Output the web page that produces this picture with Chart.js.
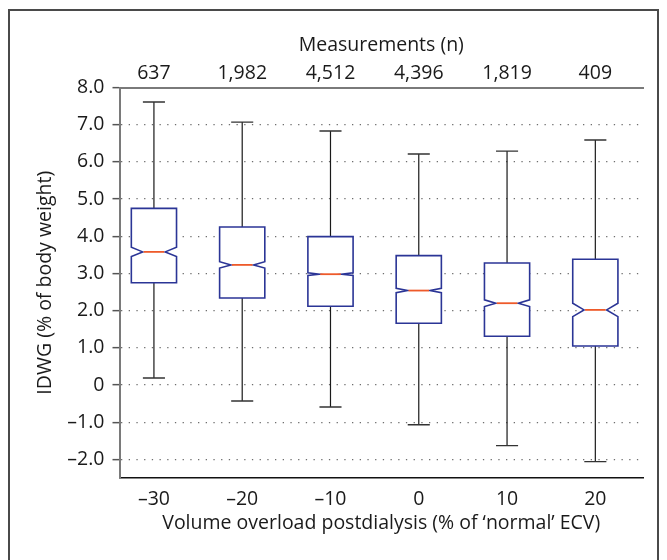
<!DOCTYPE html>
<html>
<head>
<meta charset="utf-8">
<script src="https://cdn.jsdelivr.net/npm/chart.js@4.4.1/dist/chart.umd.min.js"></script>
<style>
html,body{margin:0;padding:0;background:#fff;}
#wrap{position:relative;width:667px;height:560px;overflow:hidden;}
#frame{position:absolute;left:8px;top:9px;width:651px;height:600px;border:2px solid #4a4a4a;box-sizing:border-box;pointer-events:none;}
canvas{position:absolute;left:0;top:0;}
</style>
</head>
<body>
<div id="wrap">
<canvas id="c" width="667" height="560"></canvas>
<div id="frame"></div>
</div>
<script>
// ---- data ----
const categories = [-30, -20, -10, 0, 10, 20];
const counts = ['637', '1,982', '4,512', '4,396', '1,819', '409'];
const whiskerHigh = [7.61, 7.07, 6.83, 6.21, 6.29, 6.59];
const q3 = [4.75, 4.25, 3.99, 3.48, 3.28, 3.38];
const median = [3.58, 3.23, 2.98, 2.54, 2.20, 2.02];
const q1 = [2.75, 2.34, 2.12, 1.66, 1.31, 1.05];
const whiskerLow = [0.19, -0.43, -0.59, -1.07, -1.63, -2.06];
const notch = [0.125, 0.086, 0.035, 0.058, 0.09, 0.18];
const yTicks = [-2, -1, 0, 1, 2, 3, 4, 5, 6, 7, 8];

const FONT = '"Open Sans", "Noto Sans", sans-serif';
const FS = 19.5;
const dash = '\u2013';
function fmtX(v){ return v < 0 ? dash + Math.abs(v) : String(v); }
function fmtY(v){ if (v === 0) return '0'; return (v < 0 ? dash : '') + Math.abs(v).toFixed(1); }

const boxPlugin = {
  id: 'boxPlugin',
  afterDatasetsDraw(chart) {
    const ctx = chart.ctx;
    const xs = chart.scales.x, ys = chart.scales.y;
    const unit = Math.abs(xs.getPixelForValue(10) - xs.getPixelForValue(0));
    const hw = unit * 0.256;
    const inner = hw * 0.5;
    const capHw = unit * 0.125;
    ctx.save();
    categories.forEach((c, i) => {
      const cx = xs.getPixelForValue(c);
      const yHi = ys.getPixelForValue(whiskerHigh[i]);
      const yLo = ys.getPixelForValue(whiskerLow[i]);
      const y3 = ys.getPixelForValue(q3[i]);
      const y1 = ys.getPixelForValue(q1[i]);
      const ym = ys.getPixelForValue(median[i]);
      const yn1 = ys.getPixelForValue(median[i] + notch[i]);
      const yn0 = ys.getPixelForValue(median[i] - notch[i]);
      // whiskers
      ctx.strokeStyle = '#1a1a1a';
      ctx.lineWidth = 1.2;
      ctx.setLineDash([]);
      ctx.beginPath();
      ctx.moveTo(cx, y3); ctx.lineTo(cx, yHi);
      ctx.moveTo(cx, y1); ctx.lineTo(cx, yLo);
      ctx.stroke();
      ctx.strokeStyle = '#333';
      ctx.lineWidth = 1.4;
      ctx.beginPath();
      ctx.moveTo(cx - capHw, yHi); ctx.lineTo(cx + capHw, yHi);
      ctx.moveTo(cx - capHw, yLo); ctx.lineTo(cx + capHw, yLo);
      ctx.stroke();
      // notched box
      ctx.fillStyle = '#fff';
      ctx.strokeStyle = '#2b3596';
      ctx.lineWidth = 1.6;
      ctx.beginPath();
      ctx.moveTo(cx - hw, y1);
      ctx.lineTo(cx - hw, yn0);
      ctx.lineTo(cx - inner, ym);
      ctx.lineTo(cx - hw, yn1);
      ctx.lineTo(cx - hw, y3);
      ctx.lineTo(cx + hw, y3);
      ctx.lineTo(cx + hw, yn1);
      ctx.lineTo(cx + inner, ym);
      ctx.lineTo(cx + hw, yn0);
      ctx.lineTo(cx + hw, y1);
      ctx.closePath();
      ctx.fill();
      ctx.stroke();
      // median
      ctx.strokeStyle = '#ee5a2a';
      ctx.lineWidth = 1.8;
      ctx.beginPath();
      ctx.moveTo(cx - inner + 1, ym); ctx.lineTo(cx + inner - 1, ym);
      ctx.stroke();
    });
    ctx.restore();
  }
};

const tickList = (vals) => (scale) => { scale.ticks = vals.map(v => ({value: v})); };

new Chart(document.getElementById('c'), {
  type: 'scatter',
  data: {
    datasets: [{
      data: categories.map((c, i) => ({x: c, y: median[i]})),
      pointRadius: 0,
      showLine: false
    }]
  },
  options: {
    responsive: false,
    animation: false,
    events: [],
    layout: {padding: {left: 0, right: 24, top: 0, bottom: 0}},
    plugins: {legend: {display: false}, tooltip: {enabled: false}},
    scales: {
      x: {
        type: 'linear', position: 'bottom', min: -33.9, max: 25.4,
        afterBuildTicks: tickList(categories),
        afterFit: (s) => { s.height = 82; },
        grid: {display: false},
        border: {display: true, color: '#111', width: 1.5},
        ticks: {font: {family: FONT, size: FS}, color: '#1a1a1a', padding: 2, maxRotation: 0,
                callback: (v) => fmtX(v)},
        title: {display: true, text: 'Volume overload postdialysis (% of \u2018normal\u2019 ECV)',
                font: {family: FONT, size: FS}, color: '#1a1a1a', padding: {top: 0, bottom: 25}}
      },
      xTop: {
        type: 'linear', position: 'top', min: -33.9, max: 25.4,
        afterBuildTicks: tickList(categories),
        afterFit: (s) => { s.height = 87.5; },
        grid: {display: false},
        border: {display: true, color: '#7a7a7a', width: 2},
        ticks: {font: {family: FONT, size: FS}, color: '#1a1a1a', padding: -6, maxRotation: 0,
                callback: (v) => counts[categories.indexOf(v)]},
        title: {display: true, text: 'Measurements (n)',
                font: {family: FONT, size: FS}, color: '#1a1a1a', padding: {top: 34, bottom: 0}}
      },
      y: {
        type: 'linear', position: 'left', min: -2.5, max: 8,
        afterBuildTicks: tickList(yTicks),
        afterFit: (s) => { s.width = 119.5; },
        grid: {
          display: true,
          color: (ctx) => (ctx.tick && ctx.tick.value === 8) ? 'rgba(0,0,0,0)' : '#6e6e6e',
          lineWidth: 1.3,
          tickColor: '#555',
          tickLength: 7,
          tickWidth: 1.5,
          tickBorderDash: []
        },
        border: {display: true, color: '#7a7a7a', width: 2, dash: [1.3, 6.4]},
        ticks: {font: {family: FONT, size: FS}, color: '#1a1a1a', padding: 8,
                callback: (v) => fmtY(v)},
        title: {display: true, text: 'IDWG (% of body weight)',
                font: {family: FONT, size: FS}, color: '#1a1a1a', padding: {top: 34, bottom: 0}}
      }
    }
  },
  plugins: [boxPlugin]
});
</script>
</body>
</html>
